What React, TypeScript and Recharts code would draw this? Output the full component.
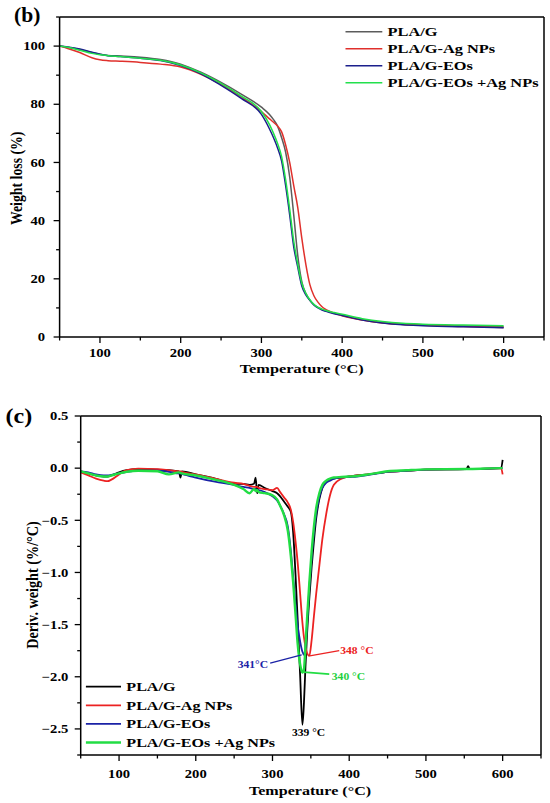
import React from "react";
import { LineChart, Line, XAxis, YAxis, ReferenceLine, ReferenceDot } from "recharts";

// TGA (b): temperature grid and weight loss (%) per sample
const tgaTemp = [50, 60, 75, 90, 100, 110, 125, 150, 175, 200, 225, 250, 275, 300, 310, 315, 320, 325, 330, 335, 340, 345, 350, 355, 360, 365, 370, 375, 380, 390, 400, 425, 450, 475, 500, 550, 600];
const tgaPLAG = [100, 99.6, 98.8, 97.8, 97.2, 96.8, 96.6, 96.2, 95.4, 93.8, 91, 87.5, 83.5, 79, 76.5, 74.7, 72.5, 68.5, 63.5, 55, 42, 28, 19, 15, 12.6, 11.1, 10.2, 9.5, 9, 8.2, 7.5, 6, 5, 4.5, 4.2, 3.8, 3.5];
const tgaAg = [100, 99.2, 97.8, 96, 95.3, 95, 94.8, 94.4, 93.8, 92.8, 90.3, 86.8, 82.5, 77.5, 75, 73.8, 72.5, 70.5, 66, 60, 52, 44.5, 34, 25, 18, 14.2, 12, 10.4, 9.4, 8.2, 7.3, 5.8, 4.8, 4.3, 4, 3.6, 3.3];
const tgaEOs = [100, 99.7, 99, 97.9, 97.2, 96.7, 96.4, 95.8, 95, 93.3, 90.5, 86.5, 82, 76.5, 71.5, 68.5, 65, 60.5, 52, 42, 31, 24, 17.5, 14.5, 12.6, 11, 10, 9.3, 8.8, 8, 7.4, 5.8, 4.8, 4.2, 3.9, 3.5, 3.2];
const tgaEOsAg = [100, 99.6, 98.6, 97.5, 97, 96.7, 96.4, 95.8, 95.1, 93.5, 90.8, 87.2, 82.8, 77.5, 73, 70, 66.5, 62, 54, 44, 33, 25, 18.5, 15, 12.8, 11.2, 10.2, 9.6, 9.1, 8.4, 7.8, 6.3, 5.3, 4.7, 4.4, 4.1, 3.9];

// DTG (c): temperature grid and derivative weight (%/°C) per sample
const dtgTemp = [50, 60, 70, 80, 85, 90, 100, 110, 125, 150, 165, 178, 180, 182, 200, 225, 250, 262, 270, 276, 278, 280, 282, 290, 300, 306, 310, 315, 320, 324, 327, 330, 333, 336, 339, 341, 343, 345, 348, 351, 354, 357, 361, 365, 370, 375, 380, 390, 400, 410, 425, 450, 475, 500, 553, 555, 557, 598, 600];
const dtgPLAG = [-0.03, -0.05, -0.07, -0.08, -0.08, -0.07, -0.04, -0.02, -0.01, -0.015, -0.02, -0.03, -0.09, -0.03, -0.06, -0.1, -0.15, -0.15, -0.16, -0.15, -0.09, -0.24, -0.16, -0.19, -0.22, -0.24, -0.27, -0.32, -0.37, -0.42, -0.62, -1.02, -1.48, -1.98, -2.46, -2.25, -1.9, -1.6, -1.25, -0.95, -0.7, -0.48, -0.3, -0.19, -0.13, -0.11, -0.1, -0.09, -0.08, -0.07, -0.06, -0.035, -0.025, -0.015, -0.01, 0.02, -0.01, 0, 0.08];
const dtgAg = [-0.04, -0.07, -0.1, -0.12, -0.125, -0.11, -0.06, -0.02, -0.005, -0.01, -0.02, -0.03, -0.03, -0.035, -0.06, -0.1, -0.14, -0.15, -0.17, -0.18, -0.18, -0.18, -0.19, -0.2, -0.21, -0.19, -0.23, -0.28, -0.33, -0.4, -0.52, -0.7, -0.92, -1.2, -1.48, -1.62, -1.71, -1.77, -1.8, -1.65, -1.42, -1.2, -0.94, -0.68, -0.44, -0.26, -0.16, -0.1, -0.08, -0.07, -0.06, -0.035, -0.025, -0.015, -0.01, -0.01, -0.01, 0, -0.06];
const dtgEOs = [-0.03, -0.04, -0.06, -0.07, -0.07, -0.065, -0.05, -0.035, -0.025, -0.025, -0.035, -0.05, -0.05, -0.055, -0.09, -0.13, -0.16, -0.18, -0.19, -0.2, -0.2, -0.21, -0.21, -0.23, -0.27, -0.31, -0.36, -0.44, -0.56, -0.8, -1.05, -1.3, -1.52, -1.66, -1.76, -1.79, -1.72, -1.5, -1.15, -0.86, -0.62, -0.44, -0.28, -0.19, -0.14, -0.12, -0.1, -0.09, -0.085, -0.08, -0.065, -0.035, -0.025, -0.015, -0.01, -0.01, -0.01, 0, 0];
const dtgEOsAg = [-0.03, -0.05, -0.07, -0.08, -0.08, -0.07, -0.05, -0.035, -0.025, -0.03, -0.06, -0.04, -0.045, -0.05, -0.07, -0.11, -0.16, -0.2, -0.24, -0.2, -0.22, -0.21, -0.23, -0.24, -0.26, -0.3, -0.36, -0.45, -0.6, -0.85, -1.1, -1.4, -1.7, -1.88, -1.96, -1.93, -1.7, -1.45, -1.1, -0.8, -0.56, -0.38, -0.24, -0.16, -0.12, -0.1, -0.09, -0.085, -0.08, -0.075, -0.06, -0.03, -0.02, -0.012, -0.008, -0.008, -0.008, 0, 0];

const xTicks = [50, 100, 150, 200, 250, 300, 350, 400, 450, 500, 550, 600, 650];
const tgaYTicks = [0, 10, 20, 30, 40, 50, 60, 70, 80, 90, 100, 110];
const dtgYTicks = [-2.75, -2.5, -2.25, -2, -1.75, -1.5, -1.25, -1, -0.75, -0.5, -0.25, 0, 0.25, 0.5];

const seriesNames = ["PLA/G", "PLA/G-Ag NPs", "PLA/G-EOs", "PLA/G-EOs +Ag NPs"];
const seriesKeys = ["plag", "ag", "eos", "eosAg"];
const tgaColors = ["#5c5c5c", "#e0302c", "#1b1f8c", "#22e04c"];
const dtgColors = ["#000000", "#ec2222", "#1a22a6", "#22dd44"];
const dtgWidths = [1.8, 1.8, 1.8, 2.4];

const tgaRows = tgaTemp.map((t, i) => ({ t, plag: tgaPLAG[i], ag: tgaAg[i], eos: tgaEOs[i], eosAg: tgaEOsAg[i] }));
const dtgRows = dtgTemp.map((t, i) => ({ t, plag: dtgPLAG[i], ag: dtgAg[i], eos: dtgEOs[i], eosAg: dtgEOsAg[i] }));

const SX = 1.22; // the figure is stretched horizontally
const FONT = "'Liberation Serif', 'Times New Roman', serif";

type STProps = { x: number; y: number; size: number; anchor?: string; fill?: string; rotate?: boolean; sx?: number; children: React.ReactNode };
const SText = ({ x, y, size, anchor = "middle", fill = "#000", rotate = false, sx = SX, children }: STProps) => (
  <text
    transform={`translate(${x},${y}) scale(${sx},1)${rotate ? " rotate(-90)" : ""}`}
    textAnchor={anchor as any}
    fontFamily={FONT}
    fontWeight="bold"
    fontSize={size}
    fill={fill}
  >
    {children}
  </text>
);

const XTickMark = (props: any) => {
  const { x, y, payload, labelDy } = props;
  const v = payload.value;
  const major = v % 100 === 0 && v >= 100 && v <= 600;
  return (
    <g>
      <line x1={x} x2={x} y1={y} y2={y + (major ? 6 : 3.5)} stroke="#000" strokeWidth={1.3} />
      {major && <SText x={x} y={y + labelDy} size={12}>{v}</SText>}
    </g>
  );
};

const YTickMark = (props: any) => {
  const { x, y, payload, gap, step, fmt } = props;
  const v = payload.value;
  const major = Math.abs(v / step - Math.round(v / step)) < 1e-6 && fmt(v) !== null;
  return (
    <g>
      <line x1={x} x2={x - (major ? 6 : 3.5)} y1={y} y2={y} stroke="#000" strokeWidth={1.3} />
      {major && <SText x={x - gap} y={y + 4.2} size={12} anchor="end">{fmt(v)}</SText>}
    </g>
  );
};

const tgaFmt = (v: number) => (v <= 100 ? String(v) : null);
const dtgFmt = (v: number) => v.toFixed(1).replace("-", "\u2212");

const annLabel = (text: string, color: string) => (p: any) => (
  <SText x={p.cx} y={p.cy + 3.3} size={9.5} fill={color}>{text}</SText>
);

const axisLine = { stroke: "#000", strokeWidth: 1.5 };

export default function App() {
  return (
    <div style={{ position: "absolute", left: 0, top: 0, width: 550, height: 803, background: "#fff" }}>
      <div style={{ position: "absolute", left: 0, top: 0 }}>
        <LineChart width={550} height={400} data={tgaRows} margin={{ top: 17, right: 6, bottom: 23, left: 19.6 }}>
          <XAxis
            dataKey="t"
            type="number"
            domain={[50, 650]}
            ticks={xTicks}
            interval={0}
            height={40}
            tickSize={0}
            tickMargin={0}
            tickLine={false}
            axisLine={axisLine}
            tick={(p: any) => <XTickMark {...p} labelDy={20} />}
          />
          <YAxis
            type="number"
            domain={[0, 110]}
            ticks={tgaYTicks}
            interval={0}
            width={40}
            tickSize={0}
            tickMargin={0}
            tickLine={false}
            axisLine={axisLine}
            tick={(p: any) => <YTickMark {...p} gap={14.5} step={20} fmt={tgaFmt} />}
          />
          <ReferenceLine y={110} stroke="#000" strokeWidth={1.5} />
          <ReferenceLine x={650} stroke="#000" strokeWidth={1.5} />
          {seriesKeys.map((k, i) => (
            <Line key={k} dataKey={k} type="monotone" stroke={tgaColors[i]} strokeWidth={1.5} dot={false} isAnimationActive={false} />
          ))}
        </LineChart>
      </div>

      <div style={{ position: "absolute", left: 0, top: 400 }}>
        <LineChart width={550} height={403} data={dtgRows} margin={{ top: 16, right: 9, bottom: 8, left: 30.7 }}>
          <XAxis
            dataKey="t"
            type="number"
            domain={[50, 650]}
            ticks={xTicks}
            interval={0}
            height={40}
            tickSize={0}
            tickMargin={0}
            tickLine={false}
            axisLine={axisLine}
            tick={(p: any) => <XTickMark {...p} labelDy={22.5} />}
          />
          <YAxis
            type="number"
            domain={[-2.75, 0.5]}
            ticks={dtgYTicks}
            interval={0}
            width={50}
            tickSize={0}
            tickMargin={0}
            tickLine={false}
            axisLine={axisLine}
            tick={(p: any) => <YTickMark {...p} gap={12.3} step={0.5} fmt={dtgFmt} />}
          />
          <ReferenceLine y={0.5} stroke="#000" strokeWidth={1.5} />
          <ReferenceLine x={650} stroke="#000" strokeWidth={1.5} />
          {seriesKeys.map((k, i) => (
            <Line key={k} dataKey={k} type="monotone" stroke={dtgColors[i]} strokeWidth={dtgWidths[i]} dot={false} isAnimationActive={false} />
          ))}
          <ReferenceLine segment={[{ x: 297, y: -1.87 }, { x: 338, y: -1.79 }]} stroke={dtgColors[2]} strokeWidth={1.3} />
          <ReferenceLine segment={[{ x: 348.5, y: -1.8 }, { x: 387, y: -1.75 }]} stroke={dtgColors[1]} strokeWidth={1.3} />
          <ReferenceLine segment={[{ x: 341, y: -1.955 }, { x: 374, y: -1.975 }]} stroke={dtgColors[3]} strokeWidth={1.8} />
          <ReferenceDot x={274.5} y={-1.88} r={0} shape={annLabel("341\u00b0C", dtgColors[2])} />
          <ReferenceDot x={410} y={-1.75} r={0} shape={annLabel("348 \u00b0C", dtgColors[1])} />
          <ReferenceDot x={399} y={-2.0} r={0} shape={annLabel("340 \u00b0C", "#1ed040")} />
          <ReferenceDot x={347} y={-2.54} r={0} shape={annLabel("339 \u00b0C", "#000")} />
        </LineChart>
      </div>

      <svg width={550} height={803} style={{ position: "absolute", left: 0, top: 0, pointerEvents: "none" }}>
        <SText x={14} y={21.5} size={20} anchor="start" sx={1.08}>(b)</SText>
        <SText x={21.5} y={178.3} size={13.8} rotate>Weight loss (%)</SText>
        <SText x={301.7} y={373} size={13.4}>Temperature (°C)</SText>
        {seriesNames.map((n, i) => (
          <g key={n}>
            <line x1={345.5} x2={382.3} y1={31.7 + i * 17} y2={31.7 + i * 17} stroke={tgaColors[i]} strokeWidth={1.6} />
            <SText x={387.6} y={31.7 + i * 17 + 4.5} size={13.4} anchor="start">{n}</SText>
          </g>
        ))}

        <SText x={5.5} y={423} size={20} anchor="start" sx={1.2}>(c)</SText>
        <SText x={37.5} y={585} size={14.2} rotate>Deriv. weight (%/°C)</SText>
        <SText x={310} y={794.5} size={13.2}>Temperature (°C)</SText>
        {seriesNames.map((n, i) => (
          <g key={n}>
            <line x1={85.9} x2={121} y1={686.7 + i * 18.6} y2={686.7 + i * 18.6} stroke={dtgColors[i]} strokeWidth={dtgWidths[i]} />
            <SText x={126.3} y={686.7 + i * 18.6 + 4.5} size={13.2} anchor="start">{n}</SText>
          </g>
        ))}
      </svg>
    </div>
  );
}
